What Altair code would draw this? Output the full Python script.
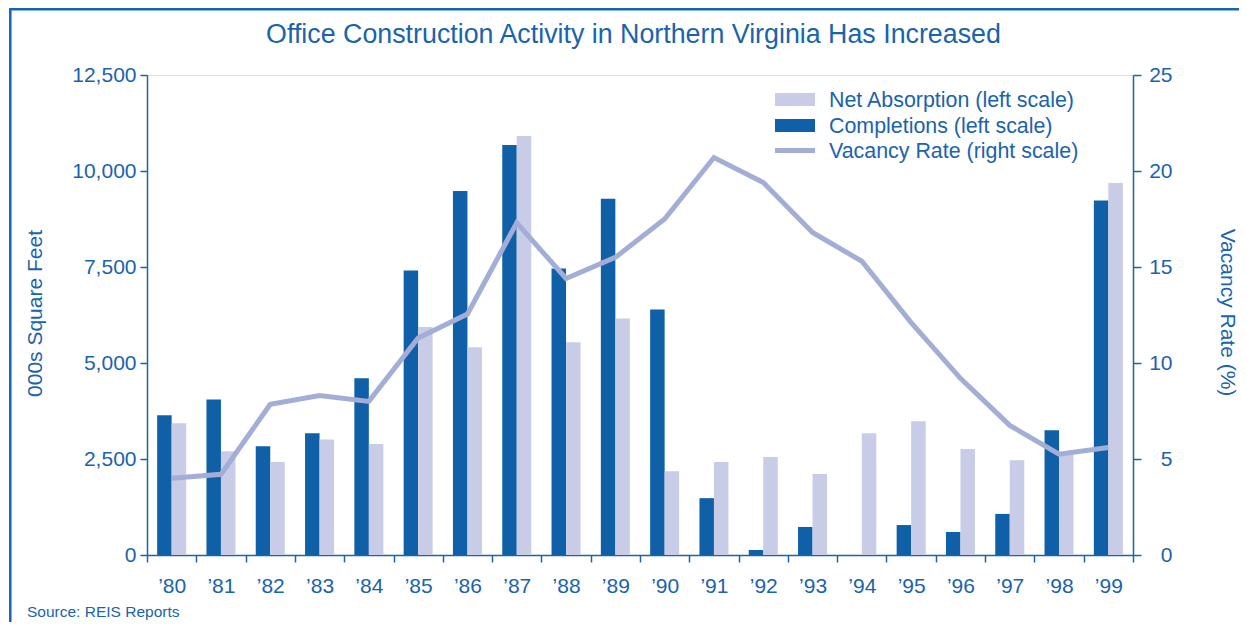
import altair as alt
import pandas as pd

years = ["’80", "’81", "’82", "’83", "’84", "’85", "’86", "’87", "’88", "’89",
         "’90", "’91", "’92", "’93", "’94", "’95", "’96", "’97", "’98", "’99"]
completions = [3640, 4050, 2830, 3170, 4600, 7410, 9480, 10680, 7460, 9280,
               6390, 1480, 130, 730, 0, 780, 600, 1070, 3250, 9230]
net_absorption = [3430, 2700, 2420, 3010, 2890, 5940, 5410, 10910, 5540, 6160,
                  2180, 2420, 2550, 2110, 3170, 3480, 2760, 2470, 2650, 9690]
vacancy_rate = [4.0, 4.2, 7.85, 8.3, 8.0, 11.3, 12.55, 17.3, 14.4, 15.5,
                17.5, 20.7, 19.4, 16.8, 15.3, 12.1, 9.2, 6.75, 5.25, 5.6]

series_names = ["Completions", "Net Absorption"]
legend_labels = ["Net Absorption (left scale)", "Completions (left scale)",
                 "Vacancy Rate (right scale)"]
title_text = "Office Construction Activity in Northern Virginia Has Increased"
source_text = "Source: REIS Reports"

TEXT = "#1a63ad"
DARK = "#1060a8"
LIGHT = "#c8cce6"
LINE = "#a3aed6"
FONT = "Liberation Sans"

bars_df = pd.DataFrame({
    "year": years * 2,
    "series": ["Completions"] * len(years) + ["Net Absorption"] * len(years),
    "value": completions + net_absorption,
})
line_df = pd.DataFrame({"year": years, "vacancy": vacancy_rate})
one = pd.DataFrame({"k": [0]})

x_axis = alt.Axis(title=None, labelAngle=0, tickBand="extent", ticks=True, labels=True,
                  tickSize=7, tickWidth=1.5, domainWidth=1.5, domainColor=TEXT, tickColor=TEXT,
                  labelColor=TEXT, labelFontSize=21, labelFont=FONT, labelPadding=13,
                  grid=False)

x_enc = alt.X("year:N", sort=years, scale=alt.Scale(paddingInner=0, paddingOuter=0), axis=x_axis)

bars = alt.Chart(bars_df).mark_bar().encode(
    x=x_enc,
    xOffset=alt.XOffset("series:N", sort=series_names,
                        scale=alt.Scale(paddingInner=0, paddingOuter=0.7)),
    y=alt.Y("value:Q", scale=alt.Scale(domain=[0, 12500], nice=False),
            axis=alt.Axis(title="000s Square Feet", values=[0, 2500, 5000, 7500, 10000, 12500],
                          format=",.0f", grid=False, tickSize=7, tickWidth=1.5, domainWidth=1.5,
                          domainColor=TEXT, tickColor=TEXT, labelColor=TEXT,
                          labelFontSize=21, labelFont=FONT, labelPadding=4,
                          titleColor=TEXT, titleFontSize=21, titleFont=FONT,
                          titleFontWeight="normal", titleX=-106, titleY=238,
                          titleAngle=270, titleBaseline="alphabetic", titleAlign="center")),
    color=alt.Color("series:N", scale=alt.Scale(domain=series_names, range=[DARK, LIGHT]),
                    legend=None),
)

line = alt.Chart(line_df).mark_line(color=LINE, strokeWidth=5).encode(
    x=x_enc,
    y=alt.Y("vacancy:Q", scale=alt.Scale(domain=[0, 25], nice=False),
            axis=alt.Axis(orient="right", title="Vacancy Rate (%)", values=[0, 5, 10, 15, 20, 25],
                          grid=False, tickSize=8, tickWidth=1.5, domainWidth=1.5,
                          domainColor=TEXT, tickColor=TEXT, labelColor=TEXT,
                          labelFontSize=21, labelFont=FONT, labelPadding=31, labelAlign="right",
                          titleColor=TEXT, titleFontSize=21, titleFont=FONT,
                          titleFontWeight="normal", titleX=87, titleY=237,
                          titleAngle=90, titleBaseline="alphabetic", titleAlign="center")),
)


def text_layer(txt, x, y, size, align="left"):
    return alt.Chart(pd.DataFrame({"t": [txt]})).mark_text(
        align=align, baseline="alphabetic", font=FONT, fontSize=size, color=TEXT
    ).encode(text="t:N", x=alt.value(x), y=alt.value(y))


def rect_layer(x1, x2, y1, y2, color):
    return alt.Chart(one).mark_rect(color=color).encode(
        x=alt.value(x1), x2=alt.value(x2), y=alt.value(y1), y2=alt.value(y2))


title = text_layer(title_text, 486.5, -32, 26.8, align="center")
source = text_layer(source_text, -120, 542, 15.5)

leg_colors = [LIGHT, DARK, LINE]
leg_rects = [(18, 31), (44, 57), (73, 78)]
leg_base = [32, 57.5, 83]
legend_layers = []
for lbl, col, (r1, r2), b in zip(legend_labels, leg_colors, leg_rects, leg_base):
    legend_layers.append(rect_layer(628, 668, r1, r2, col))
    legend_layers.append(text_layer(lbl, 682, b, 21.4))

frame = alt.Chart(one).mark_rect(fillOpacity=0, stroke="#1565b0", strokeWidth=2.5).encode(
    x=alt.value(-136.7), x2=alt.value(1140), y=alt.value(-65.8), y2=alt.value(620))

chart = alt.layer(bars, line, title, source, *legend_layers, frame).resolve_scale(
    y="independent"
).properties(
    width=986, height=480,
    autosize=alt.AutoSizeParams(type="none"),
    padding={"left": 139, "top": 67, "right": 106, "bottom": 67},
).configure_view(strokeWidth=0).configure(font=FONT)

chart.save("out.html", embed_options={"renderer": "svg", "actions": False})
